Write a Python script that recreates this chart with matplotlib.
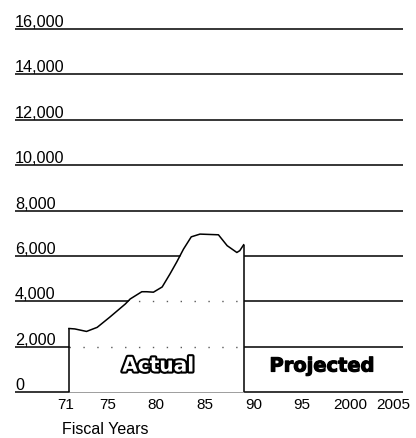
import matplotlib
matplotlib.use('Agg')
import matplotlib.pyplot as plt
import matplotlib.transforms as mtransforms
import matplotlib.patheffects as pe

# actual outlays (fiscal year, value)
years = [71.0, 71.6, 72.8, 73.9, 75.2, 76.8, 77.3, 78.5, 79.0, 79.7, 80.6,
         81.4, 82.1, 82.8, 83.6, 84.5, 86.4, 87.3, 88.3, 88.6, 89.0]
values = [2800, 2780, 2670, 2850, 3300, 3880, 4100, 4420, 4420, 4400, 4630,
          5200, 5730, 6300, 6840, 6960, 6930, 6450, 6150, 6230, 6490]

y_ticks = [0, 2000, 4000, 6000, 8000, 10000, 12000, 14000, 16000]
y_labels = ['0', '2,000', '4,000', '6,000', '8,000', '10,000', '12,000', '14,000', '16,000']
x_ticks = [71, 75, 80, 85, 90, 95, 100, 105]
x_labels = ['71', '75', '80', '85', '90', '95', '2000', '2005']
dotted_levels = [2000, 4000]

font = 'Liberation Sans'

fig = plt.figure(figsize=(4.16, 4.39), dpi=100)
ax = fig.add_axes([0.0361, 0.0970, 0.9327, 0.8424])
ax.set_xlim(65.43, 105.43)
ax.set_ylim(-150, 16150)

for s in ax.spines.values():
    s.set_visible(False)

# horizontal rules
ax.hlines(y_ticks, 65.43, 105.43, color='black', lw=1.1, zorder=1)

# area under the actual curve masks the rules
poly = ax.fill_between(years, values, 0, color='white', zorder=2, lw=0)
for lev in dotted_levels:
    ln, = ax.plot([years[0], years[-1]], [lev, lev], color='0.35', lw=1,
                  linestyle=(0, (1, 9)), zorder=3)
    ln.set_clip_path(poly.get_paths()[0], transform=ax.transData)

ax.plot(years, values, color='black', lw=1.1, zorder=4)
ax.vlines([years[0], years[-1]], 0, [values[0], values[-1]], color='black', lw=1.1, zorder=4)

# y labels sit above their rules
trans = mtransforms.blended_transform_factory(ax.transAxes, ax.transData)
trans = mtransforms.offset_copy(trans, fig=fig, y=3, units='dots')
for v, lab in zip(y_ticks, y_labels):
    ax.text(0, v, lab, transform=trans, ha='left', va='baseline',
            fontsize=11.7, family=font)

ax.set_yticks([])
ax.set_xticks(x_ticks)
ax.set_xticklabels(x_labels, fontsize=11, family=font)
ax.tick_params(axis='x', length=0, pad=1)
# nudge first and last year labels like the original
shifts = {0: -3, len(x_labels) - 1: -6}
for i, lbl in enumerate(ax.get_xticklabels()):
    if i in shifts:
        lbl.set_transform(lbl.get_transform() +
                          mtransforms.ScaledTranslation(shifts[i] / 100, 0, fig.dpi_scale_trans))

fig.text(0.149, 0.021, 'Fiscal Years', fontsize=11.5, family=font, va='center', ha='left')

ax.text(80.2, 1145, 'Actual', ha='center', va='center', fontsize=14.5,
        fontweight='bold', color='white', zorder=5,
        path_effects=[pe.withStroke(linewidth=3, foreground='black')])
ax.text(97.1, 1145, 'Projected', ha='center', va='center', fontsize=14,
        fontweight='bold', color='black', zorder=5,
        path_effects=[pe.withStroke(linewidth=0.8, foreground='black')])

fig.savefig('out.png', dpi=100)
